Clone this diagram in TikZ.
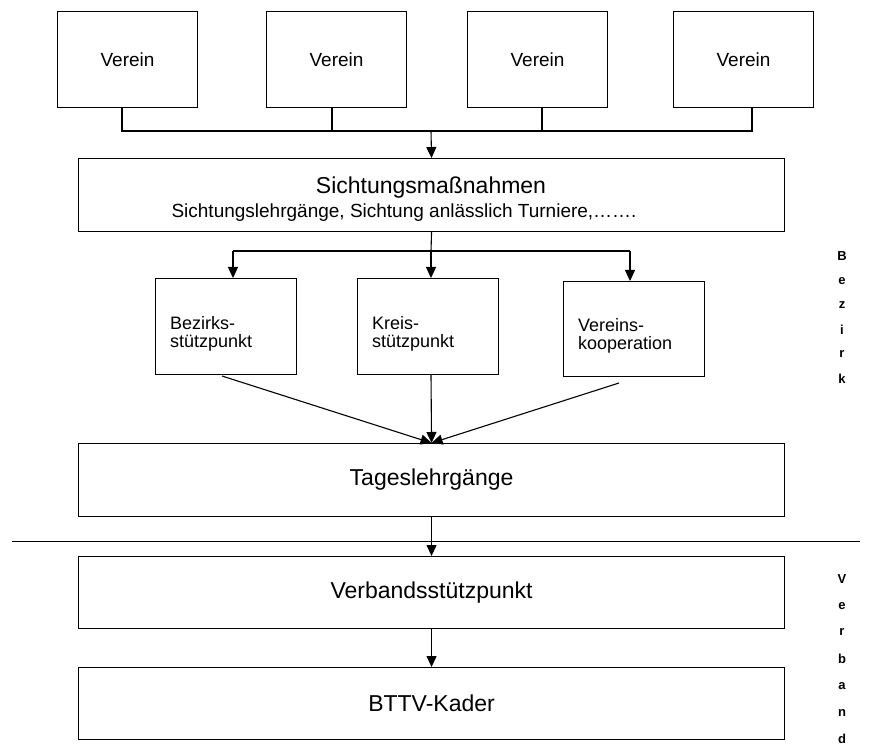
\documentclass[tikz,border=0pt]{standalone}
\usepackage{fontspec}
\setmainfont{Liberation Sans}
\usetikzlibrary{arrows.meta}

\begin{document}
\begin{tikzpicture}
[x=1pt,y=-1pt,%
  boxNode/.style={draw,line width=1.1pt,anchor=north west,inner sep=0pt,font=\fontsize{19}{19}\selectfont},%
  clubBox/.style={boxNode,minimum width=140pt,minimum height=96pt},%
  wideBox/.style={boxNode,minimum width=706pt,minimum height=73pt,font=\fontsize{23}{26}\selectfont},%
  baseBox/.style={boxNode,minimum width=141pt,minimum height=96pt,align=left,text width=112pt,
    font=\fontsize{18}{18}\selectfont,text depth=8pt},%
  plainLine/.style={line width=1.1pt},%
  darkArrow/.style={-{Triangle[length=11pt,width=10pt]},line width=1.1pt},%
  sideLetter/.style={font=\fontsize{13}{13}\selectfont\bfseries,inner sep=0pt}]
\useasboundingbox (0,0) rectangle (889,751);
%% boxes
\foreach \nodename/\x in {vereinA/57, vereinB/266, vereinC/467, vereinD/673}
{
  \node (\nodename) at (\x,11) [clubBox] {Verein};
}
\node (sicht) at (78,158) [wideBox] {};
\node (sichtTitle) at (431,188) [font=\fontsize{23}{26}\selectfont] {Sichtungsmaßnahmen};
\node (sichtSub) at (168,213) [anchor=west,font=\fontsize{19}{20}\selectfont] {Sichtungslehrgänge, Sichtung anlässlich Turniere,…….};
\node (bezirk) at (155,278) [baseBox] {Bezirks-\\stützpunkt};
\node (kreis) at (357,278) [baseBox] {Kreis-\\stützpunkt};
\node (vereins) at (563,281) [baseBox,minimum height=95pt] {Vereins-\\kooperation};
\node (tages) at (78,443) [wideBox] {Tageslehrgänge};
\node (verband) at (78,556) [wideBox,minimum height=72pt] {Verbandsstützpunkt};
\node (kader) at (78,667) [wideBox,minimum height=72pt] {BTTV-Kader};
%% side labels
\foreach \letter [count=\i] in {B,e,z,i,r,k}
{
  \node (bez\i) at (842,{256+24.6*(\i-1)}) [sideLetter] {\letter};
}
\foreach \letter [count=\i] in {V,e,r,b,a,n,d}
{
  \node (vb\i) at (842,{579+26.7*(\i-1)}) [sideLetter] {\letter};
}
%% joints
\foreach \name/\x/\y in {busA/122/131, busB/332/131, busC/542/131, busD/752/131, busMid/431/131,
  forkL/233/251, forkMid/431/251, forkR/630/251, bezirkOut/222/376, vereinsOut/619/383,
  sepL/12/541, sepR/860/541}
{
  \coordinate (\name) at (\x,\y);
}
%% lines
\draw[plainLine] (busA |- vereinA.south) -- (busA) -- (busD) -- (busD |- vereinD.south);
\draw[plainLine] (busB |- vereinB.south) -- (busB);
\draw[plainLine] (busC |- vereinC.south) -- (busC);
\draw[plainLine] (sicht.south) -- (forkMid);
\draw[plainLine] (forkL) -- (forkR);
\draw[line width=1pt] (sepL) -- (sepR);
%% arrows
\draw[darkArrow] (busMid) -- (sicht.north);
\draw[darkArrow] (forkL) -- (forkL |- bezirk.north);
\draw[darkArrow] (forkMid) -- (forkMid |- kreis.north);
\draw[darkArrow] (forkR) -- (forkR |- vereins.north);
\draw[darkArrow] (bezirkOut) -- (tages.north);
\draw[darkArrow] (forkMid |- kreis.south) -- (tages.north);
\draw[darkArrow] (vereinsOut) -- (tages.north);
\draw[darkArrow] (tages.south) -- (verband.north);
\draw[darkArrow] (verband.south) -- (kader.north);
\end{tikzpicture}
\end{document}
